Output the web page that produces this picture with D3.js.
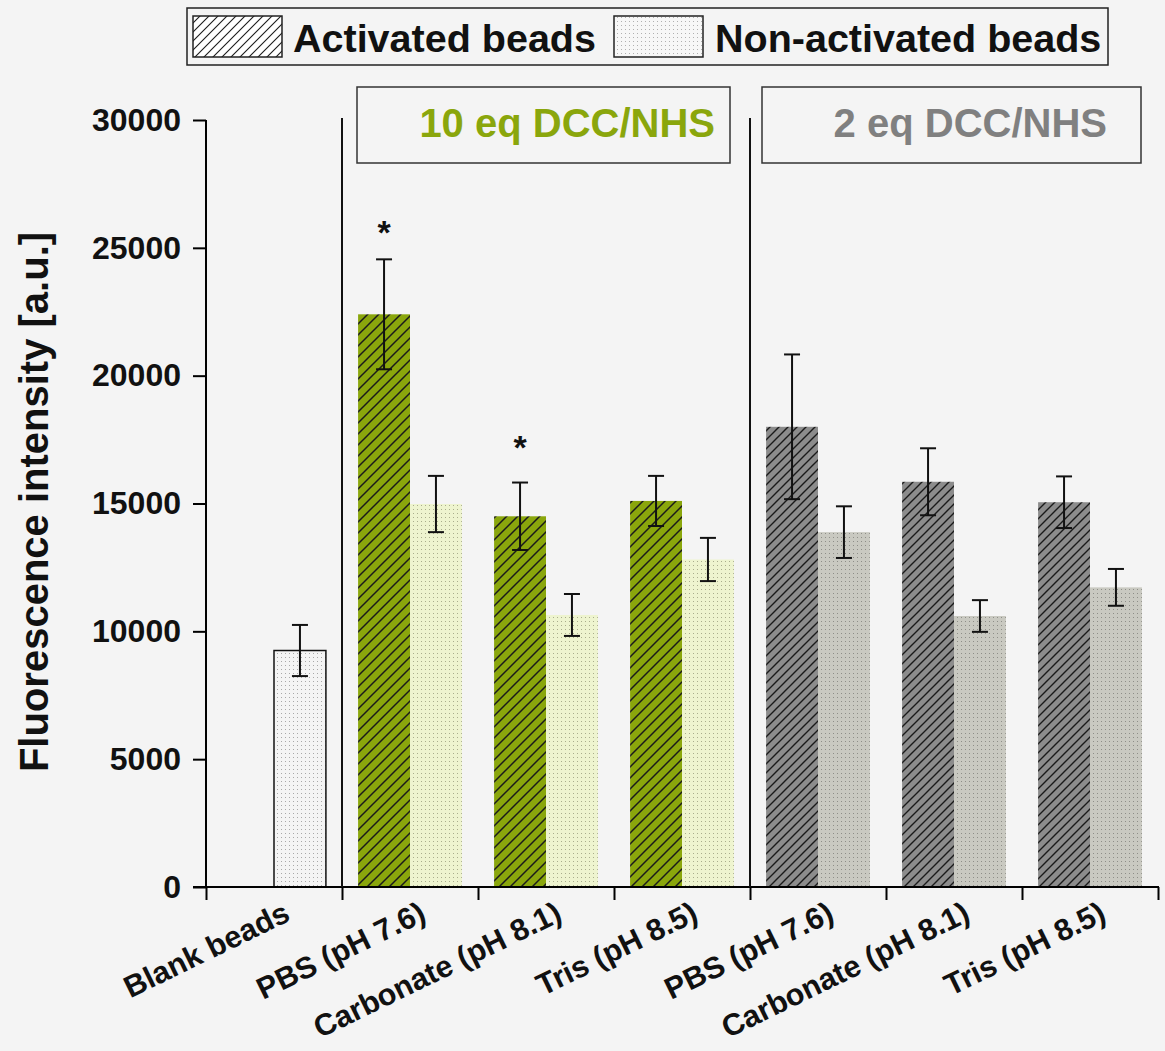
<!DOCTYPE html>
<html>
<head>
<meta charset="utf-8">
<script src="https://cdn.jsdelivr.net/npm/d3@7"></script>
<style>
  html, body { margin: 0; padding: 0; background: #f4f4f4; }
  svg { display: block; font-family: "Liberation Sans", Arial, sans-serif; font-weight: bold; }
</style>
</head>
<body>
<svg id="chart" width="1165" height="1051"></svg>
<script>
// Buffers tested on each bead batch
const categories = ["Blank beads", "PBS (pH 7.6)", "Carbonate (pH 8.1)", "Tris (pH 8.5)",
                    "PBS (pH 7.6)", "Carbonate (pH 8.1)", "Tris (pH 8.5)"];
// Coupling condition for each category
const groups = ["blank", "10eq", "10eq", "10eq", "2eq", "2eq", "2eq"];
const groupLabels = ["10 eq DCC/NHS", "2 eq DCC/NHS"];

// Mean fluorescence and standard deviation [a.u.]
const activated      = [null, 22400, 14500, 15100, 18000, 15850, 15050];
const activatedErr   = [null,  2150,  1320,   980,  2830,  1310,  1010];
const nonActivated   = [9250, 14980, 10640, 12810, 13880, 10600, 11720];
const nonActivatedErr= [1000,  1100,   820,   845,  1010,   620,   720];
// Significance markers (baseline level of the asterisk)
const starLevel      = [null, 25150, 16750, null, null, null, null];

const yTicks = [0, 5000, 10000, 15000, 20000, 25000, 30000];
const seriesNames = ["Activated beads", "Non-activated beads"];

const svg = d3.select("#chart");
const defs = svg.append("defs");

// hatch pattern for activated beads
function hatch(id, bg, spacing, stroke, sw) {
  const p = defs.append("pattern").attr("id", id).attr("patternUnits", "userSpaceOnUse")
    .attr("width", spacing).attr("height", spacing);
  if (bg) p.append("rect").attr("width", spacing).attr("height", spacing).attr("fill", bg);
  p.append("path")
    .attr("d", `M0,${spacing} L${spacing},0 M${-spacing/2},${spacing/2} L${spacing/2},${-spacing/2} M${spacing/2},${spacing*1.5} L${spacing*1.5},${spacing/2}`)
    .attr("stroke", stroke).attr("stroke-width", sw);
}
// dotted pattern for non-activated beads
function dots(id, bg, dot) {
  const p = defs.append("pattern").attr("id", id).attr("patternUnits", "userSpaceOnUse")
    .attr("width", 4).attr("height", 4);
  p.append("rect").attr("width", 4).attr("height", 4).attr("fill", bg);
  p.append("rect").attr("x", 1).attr("y", 1).attr("width", 1).attr("height", 1).attr("fill", dot);
}
hatch("hatchGreen", "#8aa60c", 11, "#1a1a1a", 1.5);
hatch("hatchGray", "#8c8c8c", 9, "#1a1a1a", 1.4);
hatch("hatchLegend", "#ffffff", 9, "#1a1a1a", 1.1);
dots("dotGreen", "#eef4cf", "#a9ad8c");
dots("dotGray", "#c9c9c1", "#8e8e88");
dots("dotBlank", "#f4f4f4", "#a8a8a8");
dots("dotLegend", "#f7f7f7", "#b0b0b0");

const fills = {
  blank: { act: null, non: "url(#dotBlank)" },
  "10eq": { act: "url(#hatchGreen)", non: "url(#dotGreen)" },
  "2eq":  { act: "url(#hatchGray)",  non: "url(#dotGray)" }
};

// scales
const x = d3.scaleBand().domain(d3.range(categories.length)).range([206, 1158]).padding(0);
const xEdge = d3.scaleLinear().domain([0, categories.length]).range([206, 1158]);
const xSub = d3.scaleBand().domain(["act", "non"]).range([0, x.bandwidth()]).paddingOuter(0.31).paddingInner(0);
const y = d3.scaleLinear().domain([0, 30000]).range([887, 120]);

// bars
const rows = categories.map((c, i) => ({ i, c, g: groups[i],
  act: activated[i], actErr: activatedErr[i], non: nonActivated[i], nonErr: nonActivatedErr[i] }));

const bars = [];
rows.forEach(r => {
  if (r.act != null) bars.push({ i: r.i, key: "act", v: r.act, e: r.actErr, fill: fills[r.g].act, g: r.g });
  if (r.non != null) bars.push({ i: r.i, key: "non", v: r.non, e: r.nonErr, fill: fills[r.g].non, g: r.g });
});

svg.append("g").selectAll("rect").data(bars).join("rect")
  .attr("x", d => x(d.i) + xSub(d.key))
  .attr("y", d => y(d.v))
  .attr("width", xSub.bandwidth())
  .attr("height", d => y(0) - y(d.v))
  .attr("fill", d => d.fill)
  .attr("stroke", d => d.g === "blank" ? "#111" : "none")
  .attr("stroke-width", 1.5);

// error bars
const eb = svg.append("g").attr("stroke", "#111").attr("stroke-width", 2);
bars.forEach(d => {
  const cx = x(d.i) + xSub(d.key) + xSub.bandwidth() / 2;
  eb.append("line").attr("x1", cx).attr("x2", cx).attr("y1", y(d.v + d.e)).attr("y2", y(d.v - d.e));
  [d.v + d.e, d.v - d.e].forEach(v => eb.append("line")
    .attr("x1", cx - 8).attr("x2", cx + 8).attr("y1", y(v)).attr("y2", y(v)));
});

// significance stars
svg.append("g").selectAll("text").data(rows.filter(r => starLevel[r.i] != null)).join("text")
  .attr("x", r => x(r.i) + xSub("act") + xSub.bandwidth() / 2)
  .attr("y", r => y(starLevel[r.i]))
  .attr("text-anchor", "middle").attr("font-size", 34).attr("fill", "#111")
  .text("*");

// axes
const yAxis = svg.append("g").attr("transform", "translate(206,0)")
  .call(d3.axisLeft(y).tickValues(yTicks).tickSize(13).tickPadding(12).tickFormat(d3.format("d")));
yAxis.select(".domain").attr("stroke-width", 2).attr("d", "M0,120V887");
yAxis.selectAll(".tick line").attr("stroke-width", 2);
yAxis.selectAll(".tick text").attr("font-size", 32).attr("font-family", "Liberation Sans, Arial, sans-serif")
  .attr("font-weight", "bold").attr("fill", "#111");

const xAxis = svg.append("g").attr("transform", "translate(0,887)")
  .call(d3.axisBottom(xEdge).tickValues(d3.range(categories.length + 1)).tickSize(13).tickFormat(""));
xAxis.select(".domain").attr("stroke-width", 2).attr("d", "M193,0H1159");
xAxis.selectAll(".tick line").attr("stroke-width", 2);

// category labels, rotated
svg.append("g").selectAll("text").data(categories).join("text")
  .attr("transform", (d, i) => `translate(${x(i) + x.bandwidth() / 2 + 8},${900}) rotate(-26)`)
  .attr("text-anchor", "end").attr("dy", "0.72em")
  .attr("font-size", 30.5).attr("fill", "#111")
  .text(d => d);

// y axis title
svg.append("text")
  .attr("transform", "translate(48,502) rotate(-90)")
  .attr("text-anchor", "middle").attr("font-size", 40).attr("fill", "#111")
  .text("Fluorescence intensity [a.u.]");

// group separators
[1, 4].forEach(i => {
  svg.append("line").attr("x1", xEdge(i)).attr("x2", xEdge(i))
    .attr("y1", 118).attr("y2", 887).attr("stroke", "#111").attr("stroke-width", 2);
});

// group label boxes
const groupBoxes = [
  { label: groupLabels[0], x0: 357, x1: 730, tx: 715, color: "#8aa60c" },
  { label: groupLabels[1], x0: 762, x1: 1141, tx: 1107, color: "#808080" }
];
groupBoxes.forEach(b => {
  svg.append("rect").attr("x", b.x0).attr("y", 87).attr("width", b.x1 - b.x0).attr("height", 76)
    .attr("fill", "none").attr("stroke", "#333").attr("stroke-width", 1.5);
  svg.append("text").attr("x", b.tx).attr("y", 137).attr("text-anchor", "end")
    .attr("font-size", 40).attr("fill", b.color).text(b.label);
});

// legend
const lg = svg.append("g");
lg.append("rect").attr("x", 187).attr("y", 8).attr("width", 921).attr("height", 57)
  .attr("fill", "#f4f4f4").attr("stroke", "#222").attr("stroke-width", 1.5);
const legendItems = [
  { name: seriesNames[0], fill: "url(#hatchLegend)", sx: 193, tx: 293 },
  { name: seriesNames[1], fill: "url(#dotLegend)", sx: 614, tx: 715 }
];
legendItems.forEach(it => {
  lg.append("rect").attr("x", it.sx).attr("y", 16).attr("width", 89).attr("height", 41)
    .attr("fill", it.fill).attr("stroke", "#222").attr("stroke-width", 1.5);
  lg.append("text").attr("x", it.tx).attr("y", 52).attr("font-size", 39.5).attr("fill", "#111").text(it.name);
});
</script>
</body>
</html>
